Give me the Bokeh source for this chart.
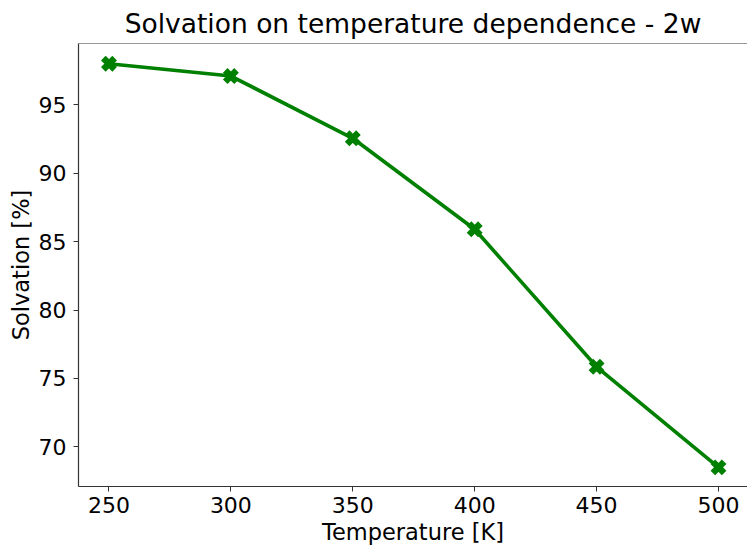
from bokeh.plotting import figure
from bokeh.models import Range1d, FixedTicker, Span, ColumnDataSource
from bokeh.embed import file_html
from bokeh.resources import INLINE

temperature = [250, 300, 350, 400, 450, 500]
solvation = [98.0, 97.1, 92.55, 85.9, 75.85, 68.5]
x_ticks = [250, 300, 350, 400, 450, 500]
y_ticks = [70, 75, 80, 85, 90, 95]

FONT = "DejaVu Sans"
GREEN = "#008000"

src = ColumnDataSource(dict(t=temperature, s=solvation))

p = figure(width=747, height=549, output_backend="svg", toolbar_location=None,
           x_range=Range1d(237.5, 511.9), y_range=Range1d(67.1, 99.48),
           min_border_left=78, min_border_right=0, min_border_top=42, min_border_bottom=63,
           title="Solvation on temperature dependence - 2w")

p.title.text_font = FONT
p.title.text_font_size = "26.5px"
p.title.text_font_style = "normal"
p.title.align = "center"
p.title.text_color = "black"

p.outline_line_color = None
p.background_fill_color = "white"
p.border_fill_color = "white"
p.xgrid.visible = False
p.ygrid.visible = False

p.xaxis.ticker = FixedTicker(ticks=x_ticks)
p.yaxis.ticker = FixedTicker(ticks=y_ticks)
for ax in (p.xaxis, p.yaxis):
    ax.major_label_text_font = FONT
    ax.major_label_text_font_size = "22px"
    ax.major_label_text_color = "black"
    ax.axis_label_text_font = FONT
    ax.axis_label_text_font_size = "22.5px"
    ax.axis_label_text_font_style = "normal"
    ax.axis_label_text_color = "black"
    ax.minor_tick_line_color = None
    ax.major_tick_in = 0
    ax.major_tick_out = 5
    ax.axis_line_color = "#333333"
    ax.major_tick_line_color = "#333333"
    ax.axis_line_width = 1.2
p.xaxis.axis_label = "Temperature [K]"
p.yaxis.axis_label = "Solvation [%]"
p.xaxis.major_label_standoff = 5
p.xaxis.axis_label_standoff = 3
p.yaxis.major_label_standoff = 7
p.yaxis.axis_label_standoff = 2

p.add_layout(Span(location=99.48, dimension="width", line_color="#333333", line_width=1.2))

p.line("t", "s", source=src, line_color=GREEN, line_width=3.6)
p.scatter("t", "s", source=src, marker="x", size=16, line_color=GREEN, line_width=6.5)

open("out.html", "w").write(file_html(p, INLINE))
